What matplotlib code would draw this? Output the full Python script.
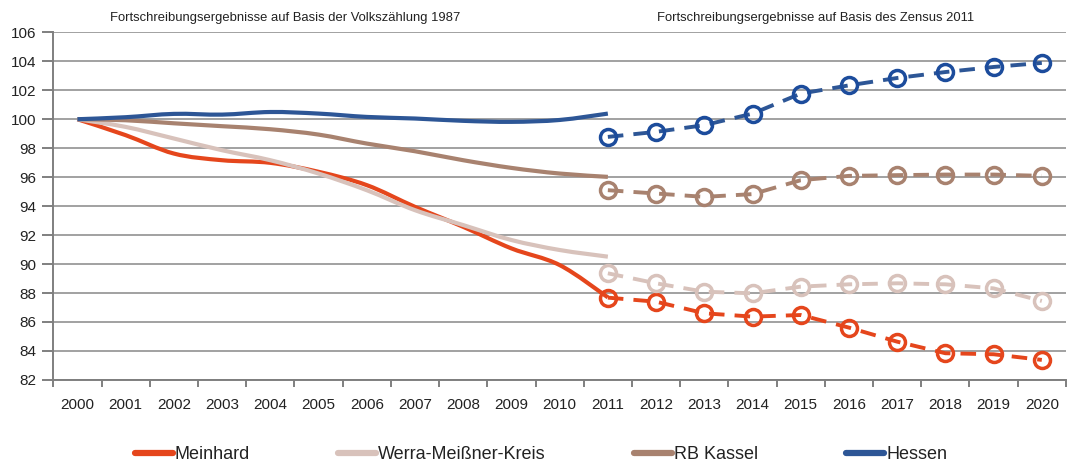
import numpy as np
import matplotlib
matplotlib.use("Agg")
import matplotlib.pyplot as plt
from matplotlib.path import Path
from matplotlib.patches import PathPatch
from matplotlib.lines import Line2D

plt.rcParams['font.family'] = ['Liberation Sans', 'DejaVu Sans']

years = list(range(2000, 2021))
years_old = list(range(2000, 2012))
years_new = list(range(2011, 2021))

# Volkszaehlung 1987 basis (2000 = 100)
meinhard_old = [100, 98.9, 97.63, 97.17, 96.99, 96.37, 95.45, 93.95, 92.57, 91.08, 89.93, 87.7]
werra_old = [100, 99.47, 98.67, 97.86, 97.17, 96.25, 95.1, 93.72, 92.69, 91.66, 90.97, 90.51]
kassel_old = [100, 99.93, 99.72, 99.52, 99.31, 98.94, 98.32, 97.79, 97.17, 96.64, 96.25, 96.02]
hessen_old = [100, 100.14, 100.37, 100.32, 100.5, 100.39, 100.16, 100.05, 99.89, 99.82, 99.95, 100.39]

# Zensus 2011 basis
meinhard_new = [87.68, 87.4, 86.6, 86.37, 86.48, 85.61, 84.64, 83.84, 83.77, 83.38]
werra_new = [89.36, 88.67, 88.09, 87.98, 88.44, 88.6, 88.67, 88.6, 88.32, 87.45]
kassel_new = [95.1, 94.87, 94.64, 94.83, 95.79, 96.09, 96.14, 96.18, 96.18, 96.09]
hessen_new = [98.78, 99.13, 99.59, 100.39, 101.77, 102.34, 102.85, 103.26, 103.61, 103.89]

names = ["Meinhard", "Werra-Meißner-Kreis", "RB Kassel", "Hessen"]
colors = ["#E5461C", "#D8C2BB", "#A8826F", "#2D5696"]
marker_colors = ["#E5461C", "#D8C2BB", "#A8826F", "#1C4C9C"]
old_series = [meinhard_old, werra_old, kassel_old, hessen_old]
new_series = [meinhard_new, werra_new, kassel_new, hessen_new]

header_left = "Fortschreibungsergebnisse auf Basis der Volkszählung 1987"
header_right = "Fortschreibungsergebnisse auf Basis des Zensus 2011"


def smooth_path(x, y, t=1.0 / 6):
    # Catmull-Rom through the points, as cubic bezier segments
    x = np.asarray(x, float)
    y = np.asarray(y, float)
    n = len(x)
    verts = [(x[0], y[0])]
    codes = [Path.MOVETO]
    for i in range(n - 1):
        p0 = (x[max(i - 1, 0)], y[max(i - 1, 0)])
        p1 = (x[i], y[i])
        p2 = (x[i + 1], y[i + 1])
        p3 = (x[min(i + 2, n - 1)], y[min(i + 2, n - 1)])
        c1 = (p1[0] + (p2[0] - p0[0]) * t, p1[1] + (p2[1] - p0[1]) * t)
        c2 = (p2[0] - (p3[0] - p1[0]) * t, p2[1] - (p3[1] - p1[1]) * t)
        verts += [c1, c2, p2]
        codes += [Path.CURVE4] * 3
    return Path(verts, codes)


fig = plt.figure(figsize=(10.67, 4.69), dpi=100)
ax = fig.add_axes([0.05, 0.19, 0.949, 0.741])

xo = [years.index(y) for y in years_old]
xn = [years.index(y) for y in years_new]

for vals, c in zip(old_series, colors):
    ax.add_patch(PathPatch(smooth_path(xo, vals), facecolor="none",
                           edgecolor=c, lw=3.0, capstyle="butt", zorder=3))

for vals, c, mc in zip(new_series, colors, marker_colors):
    ax.plot(xn, vals, color=c, lw=2.8, dashes=(4.0, 2.6), marker="o",
            markersize=11.5, markerfacecolor="none", markeredgecolor=mc,
            markeredgewidth=2.5, zorder=4)

ax.set_xlim(-0.5, 20.5)
ax.set_ylim(82, 106)
ax.set_yticks(np.arange(82, 107, 2))
ax.set_xticks(range(len(years)))
ax.set_xticklabels([str(y) for y in years])
ax.set_xticks(np.arange(-0.5, 21, 1), minor=True)

ax.yaxis.grid(True, color="#888888", lw=1.1)
ax.set_axisbelow(True)
for s in ["top", "right"]:
    ax.spines[s].set_visible(False)
for s in ["left", "bottom"]:
    ax.spines[s].set_color("#7F7F7F")
    ax.spines[s].set_linewidth(1.4)

ax.tick_params(axis="x", which="major", length=0, pad=13, labelsize=11, labelcolor="#222222")
ax.tick_params(axis="x", which="minor", length=5, width=1.4, color="#7F7F7F")
ax.tick_params(axis="y", length=8, width=1.4, color="#7F7F7F", pad=4, labelsize=11,
               labelcolor="#222222")

fig.text(0.267, 0.962, header_left, ha="center", va="center", fontsize=9.4, color="#222222")
fig.text(0.764, 0.962, header_right, ha="center", va="center", fontsize=9.4, color="#222222")

handles = [Line2D([], [], color=c, lw=4.5, solid_capstyle="round") for c in colors]
fig.legend(handles, names, loc="center", bbox_to_anchor=(0.507, 0.03), ncol=4,
           frameon=False, fontsize=13, handlelength=2.1, handletextpad=0.12,
           columnspacing=4.87, labelcolor="#222222")

fig.savefig("out.png", dpi=100)
